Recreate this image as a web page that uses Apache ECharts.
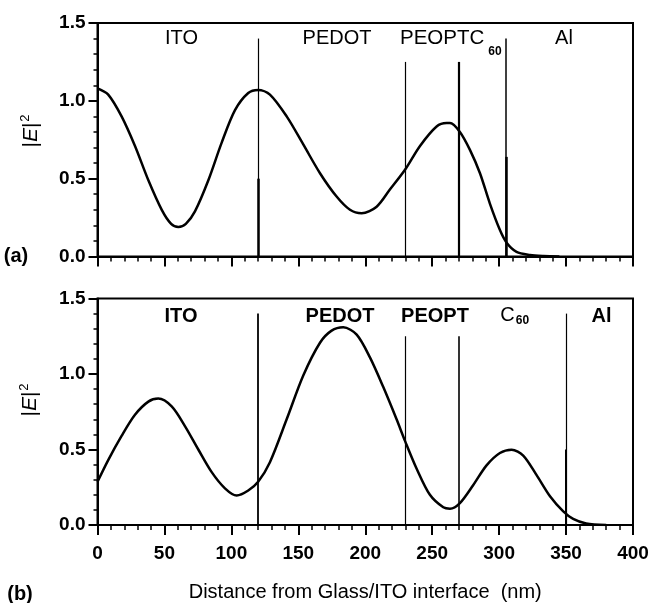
<!DOCTYPE html>
<html><head><meta charset="utf-8">
<script src="https://cdn.jsdelivr.net/npm/echarts@6/dist/echarts.min.js"></script>
<style>html,body{margin:0;padding:0;background:#fff}#c{width:652px;height:603px}</style>
</head><body><div id="c"></div>
<script>
// Panel (a): distance (nm) and |E|^2
var xA = [0, 8, 18, 28, 38, 48, 55, 60.4, 66, 72.8, 82.8, 92.7, 102.7, 112.6, 120, 128.8, 141.3, 153.7, 166.2, 178.6, 188.6, 197.3, 208.5, 218.4, 229.7, 240.9, 253.3, 260.8, 263.3, 270.7, 278.2, 285.7, 293.1, 300.6, 305.6, 313, 323, 333, 345];
var yA = [1.08, 1.04, 0.90, 0.71, 0.49, 0.30, 0.21, 0.19, 0.21, 0.29, 0.49, 0.73, 0.94, 1.05, 1.07, 1.04, 0.90, 0.72, 0.535, 0.385, 0.30, 0.278, 0.32, 0.43, 0.557, 0.71, 0.835, 0.857, 0.857, 0.80, 0.685, 0.535, 0.34, 0.17, 0.089, 0.03, 0.01, 0.003, 0.0];
// Panel (b)
var xB = [0, 8, 18, 28, 38, 45.4, 55.4, 65.3, 75.3, 85.3, 95.2, 104, 112.6, 120, 128.8, 141.3, 153.7, 166.2, 174.9, 183.6, 193.6, 203.5, 213.4, 223.4, 229.7, 238.4, 248.3, 258.3, 263.3, 270.7, 280.7, 290.6, 300.6, 309.3, 318, 328, 338, 347.9, 355.3, 365, 380];
var yB = [0.286, 0.43, 0.59, 0.73, 0.817, 0.837, 0.785, 0.655, 0.50, 0.35, 0.243, 0.195, 0.228, 0.286, 0.416, 0.70, 0.99, 1.207, 1.287, 1.309, 1.261, 1.11, 0.915, 0.70, 0.557, 0.373, 0.20, 0.117, 0.108, 0.145, 0.265, 0.395, 0.477, 0.499, 0.46, 0.33, 0.19, 0.09, 0.04, 0.01, 0.0];
// Layer boundaries: position (nm) and line top (|E|^2)
var boundA = [120, 230, 270, 305];
var boundTopA = [1.4, 1.25, 1.25, 1.4];
var boundB = [120, 230, 270, 350];
var boundTopB = [1.4, 1.25, 1.25, 1.4];
var yTicks = ['0.0', '0.5', '1.0', '1.5'];
var xTicks = ['0', '50', '100', '150', '200', '250', '300', '350', '400'];
var xTitle = 'Distance from Glass/ITO interface  (nm)';

var FONT = '"Liberation Sans", Arial, Helvetica, sans-serif';
function pairs(xs, ys) { return xs.map(function (x, i) { return [x, ys[i]]; }); }
function bounds(xs, tops, widths) {
  return xs.map(function (x, i) {
    return [{ coord: [x, 0], lineStyle: { width: widths[i], color: '#000', type: 'solid' } }, { coord: [x, tops[i]] }];
  });
}
function xAxis(idx, showLabels) {
  return {
    gridIndex: idx, type: 'value', min: 0, max: 400, interval: 50,
    axisLine: { show: true, onZero: false, lineStyle: { color: '#000', width: 2 } },
    axisTick: { show: true, inside: false, length: 10, lineStyle: { color: '#000', width: 2 } },
    minorTick: { show: true, splitNumber: 5, length: 5, lineStyle: { color: '#000', width: 1.5 } },
    splitLine: { show: false }, minorSplitLine: { show: false },
    axisLabel: { show: showLabels, color: '#000', fontFamily: FONT, fontSize: 19, fontWeight: 'bold', margin: 19,
      formatter: function (v) { return xTicks[Math.round(v / 50)]; } },
    name: showLabels ? xTitle : '', nameLocation: 'middle', nameGap: 57,
    nameTextStyle: { color: '#000', fontFamily: FONT, fontSize: 20 }
  };
}
function yAxis(idx) {
  return {
    gridIndex: idx, type: 'value', min: 0, max: 1.5, interval: 0.5,
    axisLine: { show: true, onZero: false, lineStyle: { color: '#000', width: 2 } },
    axisTick: { show: true, inside: false, length: 9, lineStyle: { color: '#000', width: 2 } },
    minorTick: { show: true, splitNumber: 5, length: 4, lineStyle: { color: '#000', width: 1.5 } },
    splitLine: { show: false }, minorSplitLine: { show: false },
    axisLabel: { color: '#000', fontFamily: FONT, fontSize: 19, fontWeight: 'bold', margin: 12,
      formatter: function (v) { return yTicks[Math.round(v / 0.5)]; } }
  };
}
function txt(s, x, y, size, weight, align) {
  return { type: 'text', x: x, y: y, silent: true, style: { text: s, fill: '#000', font: (weight || 'normal') + ' ' + size + 'px ' + FONT, align: align || 'center', verticalAlign: 'middle' } };
}
function eLabel(x, y) {
  return { type: 'text', x: x, y: y, rotation: Math.PI / 2, silent: true,
    style: { text: '{n||}{i|E}{n||}{s|2}', align: 'center', verticalAlign: 'middle', fill: '#000',
      rich: {
        n: { font: 'normal 21px ' + FONT, fill: '#000' },
        i: { font: 'italic 21px ' + FONT, fill: '#000' },
        s: { font: 'normal 13px ' + FONT, fill: '#000', padding: [0, 0, 12, 1] }
      } } };
}

var option = {
  animation: false,
  grid: [
    { left: 97.5, top: 23, right: 19, height: 233.5, show: true, borderColor: '#000', borderWidth: 2, backgroundColor: 'transparent' },
    { left: 97.5, top: 298.5, right: 19, height: 230.5, show: true, borderColor: '#000', borderWidth: 2, backgroundColor: 'transparent' }
  ],
  xAxis: [xAxis(0, false), xAxis(1, true)],
  yAxis: [yAxis(0), yAxis(1)],
  series: [
    { type: 'line', xAxisIndex: 0, yAxisIndex: 0, data: pairs(xA, yA), smooth: 0.3, showSymbol: false,
      lineStyle: { color: '#000', width: 2.5 },
      markLine: { silent: true, symbol: 'none', label: { show: false },
        data: bounds(boundA, boundTopA, [1.2, 1.2, 2.2, 1.5]).concat(bounds([120, 305], [0.5, 0.64], [2.5, 2.5])) } },
    { type: 'line', xAxisIndex: 1, yAxisIndex: 1, data: pairs(xB, yB), smooth: 0.3, showSymbol: false,
      lineStyle: { color: '#000', width: 2.5 },
      markLine: { silent: true, symbol: 'none', label: { show: false },
        data: bounds(boundB, boundTopB, [1.8, 1.2, 1.6, 1.2]).concat(bounds([350], [0.5], [2])) } }
  ],
  graphic: [
    txt('ITO', 181.5, 38.5, 20),
    txt('PEDOT', 337, 38.5, 20),
    txt('PEOPTC', 400, 38.5, 20.5, 'normal', 'left'),
    txt('60', 495, 52, 12, 'bold'),
    txt('Al', 564, 38.5, 20),
    txt('ITO', 181, 316, 20, 'bold'),
    txt('PEDOT', 340, 316, 20, 'bold'),
    txt('PEOPT', 435, 316, 20, 'bold'),
    txt('C', 507.5, 315.5, 20),
    txt('60', 522.5, 321, 12, 'bold'),
    txt('Al', 601.5, 316, 20, 'bold'),
    txt('(a)', 16, 256, 20, 'bold'),
    txt('(b)', 20, 594, 20, 'bold'),
    eLabel(31, 131),
    eLabel(30, 400)
  ]
};
echarts.init(document.getElementById('c'), null, { renderer: 'canvas' }).setOption(option);
</script></body></html>
